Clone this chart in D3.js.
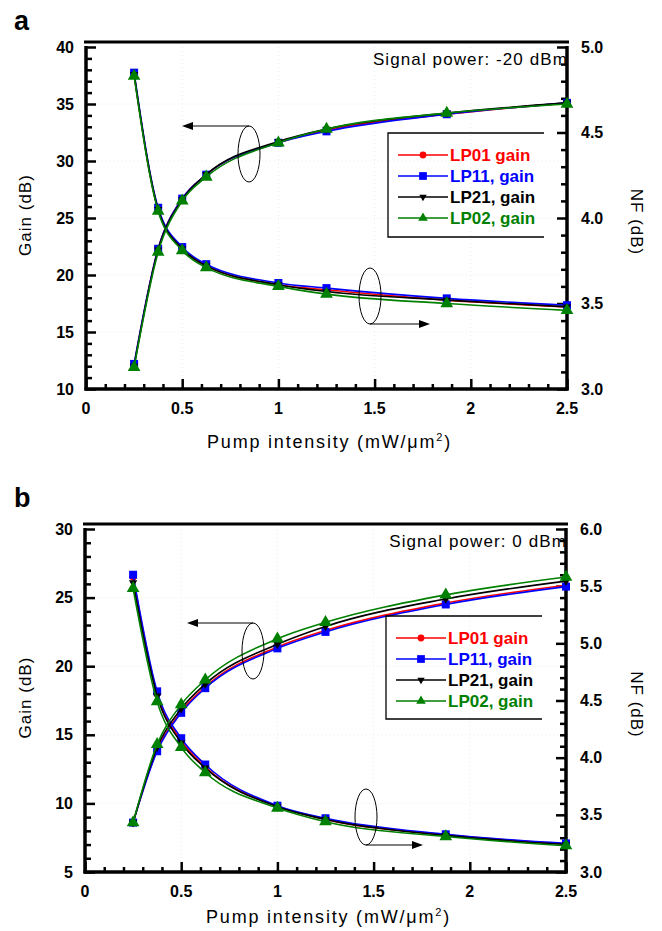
<!DOCTYPE html>
<html>
<head>
<meta charset="utf-8">
<script src="https://cdn.jsdelivr.net/npm/d3@7"></script>
<style>
  body { margin: 0; background: #fff; }
  svg { display: block; font-family: "Liberation Sans", Arial, sans-serif; }
</style>
</head>
<body>
<svg id="chart" width="662" height="931"></svg>
<script>
// pump intensity (mW/um^2) at each simulated point
var pumpIntensity = [0.25, 0.375, 0.5, 0.625, 1.0, 1.25, 1.875, 2.5]
var modeNames = ["LP01 gain", "LP11, gain", "LP21, gain", "LP02, gain"]
var modeColors = ["#ff0000", "#0000ff", "#000000", "#008000"]
var modeSymbols = ["circle", "square", "tridown", "triangle"]

// panel a, signal power -20 dBm
var gainA_LP01 = [12.1, 22.3, 26.7, 28.8, 31.6, 32.7, 34.1, 35.1]
var gainA_LP11 = [12.2, 22.3, 26.7, 28.8, 31.6, 32.6, 34.1, 35.1]
var gainA_LP21 = [12.0, 22.2, 26.6, 28.8, 31.7, 32.8, 34.2, 35.1]
var gainA_LP02 = [11.9, 22.0, 26.5, 28.6, 31.6, 32.8, 34.2, 35.0]
var nfA_LP01 = [4.84, 4.05, 3.82, 3.72, 3.61, 3.58, 3.52, 3.48]
var nfA_LP11 = [4.85, 4.06, 3.83, 3.73, 3.62, 3.59, 3.53, 3.49]
var nfA_LP21 = [4.84, 4.05, 3.82, 3.72, 3.61, 3.57, 3.52, 3.48]
var nfA_LP02 = [4.83, 4.04, 3.81, 3.71, 3.60, 3.555, 3.50, 3.46]

// panel b, signal power 0 dBm
var gainB_LP01 = [8.6, 13.9, 16.7, 18.5, 21.4, 22.6, 24.6, 25.9]
var gainB_LP11 = [8.6, 13.8, 16.6, 18.4, 21.3, 22.5, 24.5, 25.8]
var gainB_LP21 = [8.6, 14.1, 16.9, 18.7, 21.6, 22.9, 24.9, 26.2]
var gainB_LP02 = [8.6, 14.3, 17.2, 19.0, 22.0, 23.2, 25.2, 26.5]
var nfB_LP01 = [5.58, 4.56, 4.15, 3.92, 3.575, 3.46, 3.325, 3.245]
var nfB_LP11 = [5.60, 4.58, 4.17, 3.94, 3.58, 3.47, 3.33, 3.25]
var nfB_LP21 = [5.53, 4.54, 4.13, 3.91, 3.57, 3.46, 3.32, 3.24]
var nfB_LP02 = [5.48, 4.49, 4.09, 3.87, 3.56, 3.44, 3.31, 3.23]

var xTicks = [0, 0.5, 1, 1.5, 2, 2.5]
var gainTicksA = [10, 15, 20, 25, 30, 35, 40]
var nfTicksA = [3.0, 3.5, 4.0, 4.5, 5.0]
var gainTicksB = [5, 10, 15, 20, 25, 30]
var nfTicksB = [3.0, 3.5, 4.0, 4.5, 5.0, 5.5, 6.0]

var svg = d3.select("#chart")

function symbolPath(kind, size){
	var t = {circle: d3.symbolCircle, square: d3.symbolSquare, triangle: d3.symbolTriangle, tridown: d3.symbolTriangle}[kind]
	return d3.symbol().type(t).size(size)()
}

function drawPanel(p){
	var g = svg.append("g")
	var x = d3.scaleLinear().domain([0, 2.5]).range([p.left, p.right])
	var yG = d3.scaleLinear().domain(p.gainDomain).range([p.bottom, p.top])
	var yN = d3.scaleLinear().domain(p.nfDomain).range([p.bottom, p.top])

	// faint grid
	g.append("g").selectAll("line").data(xTicks.slice(1, -1)).enter().append("line")
		.attr("x1", d => x(d)).attr("x2", d => x(d))
		.attr("y1", p.top).attr("y2", p.bottom)
		.attr("stroke", "#ececec").attr("stroke-dasharray", "1,3")
	g.append("g").selectAll("line").data(p.gainTicks.slice(1, -1)).enter().append("line")
		.attr("x1", p.left).attr("x2", p.right)
		.attr("y1", d => yG(d)).attr("y2", d => yG(d))
		.attr("stroke", "#ececec").attr("stroke-dasharray", "1,3")

	// axes, ticks inward
	var xMinor = d3.range(0, 2.5001, 0.1)
	var xAxis = d3.axisBottom(x).tickValues(xMinor).tickSize(-5).tickFormat("")
	var xAx = g.append("g").attr("transform", "translate(0," + p.bottom + ")").call(xAxis)
	xAx.selectAll(".tick line").filter(d => Math.abs(d * 2 - Math.round(d * 2)) < 1e-6).attr("y2", -10)

	var gMinor = d3.range(p.gainDomain[0], p.gainDomain[1] + 0.001, 1)
	var yAx = g.append("g").attr("transform", "translate(" + p.left + ",0)")
		.call(d3.axisLeft(yG).tickValues(gMinor).tickSize(-6).tickFormat(""))
	yAx.selectAll(".tick line").filter(d => d % 5 == 0).attr("x2", 10)

	var nMinor = d3.range(p.nfDomain[0], p.nfDomain[1] + 0.001, 0.1)
	var nAx = g.append("g").attr("transform", "translate(" + p.right + ",0)")
		.call(d3.axisRight(yN).tickValues(nMinor).tickSize(-6).tickFormat(""))
	nAx.selectAll(".tick line").filter(d => Math.abs(d * 2 - Math.round(d * 2)) < 1e-6).attr("x2", -10)

	g.selectAll(".domain").remove()
	g.selectAll(".tick line").attr("stroke", "#000").attr("stroke-width", 2.5)

	// frame lines
	g.append("line").attr("x1", p.left).attr("x2", p.left).attr("y1", p.top - 1).attr("y2", p.bottom + 1.5)
		.attr("stroke", "#000").attr("stroke-width", 3.5)
	g.append("line").attr("x1", p.right).attr("x2", p.right).attr("y1", p.top - 1).attr("y2", p.bottom + 1.5)
		.attr("stroke", "#000").attr("stroke-width", 3.5)
	g.append("line").attr("x1", p.left - 1.5).attr("x2", p.right + 1.5).attr("y1", p.bottom).attr("y2", p.bottom)
		.attr("stroke", "#000").attr("stroke-width", 3.5)
	g.append("line").attr("x1", p.left - 2).attr("x2", p.right + 2).attr("y1", p.top - 5).attr("y2", p.top - 5)
		.attr("stroke", "#000").attr("stroke-width", 3)

	// tick labels
	g.selectAll(".xl").data(xTicks).enter().append("text")
		.attr("x", d => x(d)).attr("y", p.bottom + 25)
		.attr("text-anchor", "middle").attr("font-size", 16).attr("font-weight", "bold")
		.text(d => d3.format("~g")(d))
	g.selectAll(".gl").data(p.gainTicks).enter().append("text")
		.attr("x", p.left - 12).attr("y", d => yG(d) + 5.5)
		.attr("text-anchor", "end").attr("font-size", 16).attr("font-weight", "bold")
		.text(d => d)
	g.selectAll(".nl").data(p.nfTicks).enter().append("text")
		.attr("x", p.right + 14).attr("y", d => yN(d) + 5.5)
		.attr("text-anchor", "start").attr("font-size", 16).attr("font-weight", "bold")
		.text(d => d.toFixed(1))

	// axis titles
	var xt = g.append("text").attr("x", (p.left + p.right) / 2 + 3).attr("y", p.bottom + p.xTitleDy)
		.attr("text-anchor", "middle").attr("font-size", 18).attr("letter-spacing", 1.8)
	xt.append("tspan").text("Pump intensity (mW/μm")
	xt.append("tspan").attr("dy", -7).attr("font-size", 11).text("2")
	xt.append("tspan").attr("dy", 7).text(")")
	g.append("text").attr("transform", "translate(31," + ((p.top + p.bottom) / 2 - 3) + ") rotate(-90)")
		.attr("text-anchor", "middle").attr("font-size", 17).attr("letter-spacing", 1).text("Gain (dB)")
	g.append("text").attr("transform", "translate(631," + ((p.top + p.bottom) / 2 + 4) + ") rotate(90)")
		.attr("text-anchor", "middle").attr("font-size", 17).attr("letter-spacing", 1).text("NF (dB)")

	g.append("text").attr("x", 14).attr("y", p.top - p.labelDy).attr("font-size", 27).attr("font-weight", "bold").text(p.label)
	g.append("text").attr("x", p.right + 1).attr("y", p.top + 18).attr("text-anchor", "end")
		.attr("font-size", 17).attr("letter-spacing", 1.1).text(p.signal)

	// series
	var lineG = d3.line().x((d, i) => x(pumpIntensity[i])).y(d => yG(d)).curve(d3.curveMonotoneX)
	var lineN = d3.line().x((d, i) => x(pumpIntensity[i])).y(d => yN(d)).curve(d3.curveMonotoneX)
	var sizes = [40, 64, 30, 70]
	for (var m = 0; m < 4; m++) {
		var col = modeColors[m]
		g.append("path").attr("d", lineG(p.gain[m])).attr("fill", "none").attr("stroke", col).attr("stroke-width", 1.6)
		g.append("path").attr("d", lineN(p.nf[m])).attr("fill", "none").attr("stroke", col).attr("stroke-width", 1.6)
		var pts = p.gain[m].map((v, i) => [x(pumpIntensity[i]), yG(v)])
			.concat(p.nf[m].map((v, i) => [x(pumpIntensity[i]), yN(v)]))
		g.selectAll(null).data(pts).enter().append("path")
			.attr("d", symbolPath(modeSymbols[m], sizes[m]))
			.attr("transform", d => "translate(" + d[0] + "," + d[1] + ")" + (modeSymbols[m] == "tridown" ? " rotate(180)" : ""))
			.attr("fill", col)
	}

	// annotation ellipses with arrows
	p.notes.forEach(n => {
		g.append("ellipse").attr("cx", n.cx).attr("cy", n.cy).attr("rx", 11).attr("ry", 28)
			.attr("fill", "none").attr("stroke", "#000").attr("stroke-width", 1)
		var ay = n.dir < 0 ? n.cy - 28 : n.cy + 28
		g.append("line").attr("x1", n.cx).attr("x2", n.tip - n.dir * 8).attr("y1", ay).attr("y2", ay)
			.attr("stroke", "#000").attr("stroke-width", 1.2)
		g.append("path").attr("d", "M" + n.tip + "," + ay + "l" + (-n.dir * 11) + ",-4l0,8z").attr("fill", "#000")
	})

	// legend
	var lg = g.append("g")
	lg.append("path").attr("d", "M" + p.legend.x2 + "," + p.legend.y1 + "H" + p.legend.x1 + "V" + p.legend.y2 + "H" + p.legend.x2)
		.attr("fill", "none").attr("stroke", "#000").attr("stroke-width", 1.3)
	var lsizes = [36, 60, 24, 40]
	modeNames.forEach((name, i) => {
		var yy = p.legend.y1 + 22 + i * 21
		lg.append("line").attr("x1", p.legend.x1 + 10).attr("x2", p.legend.x1 + 60).attr("y1", yy).attr("y2", yy)
			.attr("stroke", modeColors[i]).attr("stroke-width", 1.6)
		lg.append("path").attr("d", symbolPath(modeSymbols[i], lsizes[i]))
			.attr("transform", "translate(" + (p.legend.x1 + 35) + "," + yy + ")" + (modeSymbols[i] == "tridown" ? " rotate(180)" : ""))
			.attr("fill", modeColors[i])
		lg.append("text").attr("x", p.legend.x1 + 62).attr("y", yy + 6).attr("font-size", 17).attr("font-weight", "bold")
			.attr("fill", modeColors[i]).text(name)
	})
}

drawPanel({
	label: "a", signal: "Signal power: -20 dBm", labelDy: 17, xTitleDy: 59,
	left: 86, right: 567, top: 47, bottom: 389,
	gainDomain: [10, 40], nfDomain: [3, 5], gainTicks: gainTicksA, nfTicks: nfTicksA,
	gain: [gainA_LP01, gainA_LP11, gainA_LP21, gainA_LP02],
	nf: [nfA_LP01, nfA_LP11, nfA_LP21, nfA_LP02],
	notes: [{cx: 249, cy: 154, dir: -1, tip: 182}, {cx: 370, cy: 296, dir: 1, tip: 430}],
	legend: {x1: 388, x2: 544, y1: 133, y2: 237}
})

drawPanel({
	label: "b", signal: "Signal power: 0 dBm", labelDy: 22, xTitleDy: 51,
	left: 85, right: 566, top: 529, bottom: 872,
	gainDomain: [5, 30], nfDomain: [3, 6], gainTicks: gainTicksB, nfTicks: nfTicksB,
	gain: [gainB_LP01, gainB_LP11, gainB_LP21, gainB_LP02],
	nf: [nfB_LP01, nfB_LP11, nfB_LP21, nfB_LP02],
	notes: [{cx: 253, cy: 651, dir: -1, tip: 187}, {cx: 366, cy: 817, dir: 1, tip: 423}],
	legend: {x1: 386, x2: 542, y1: 616, y2: 719}
})
</script>
</body>
</html>
